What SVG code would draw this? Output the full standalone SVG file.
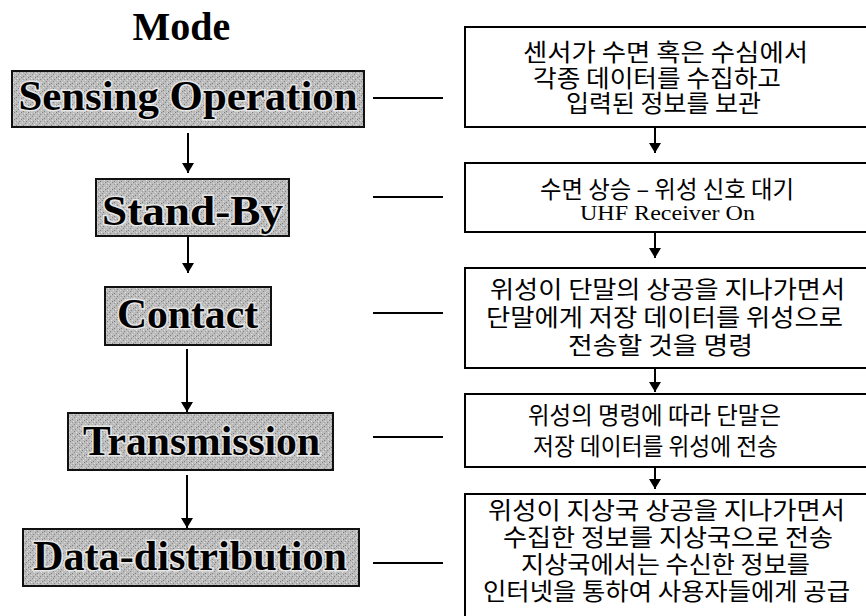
<svg xmlns="http://www.w3.org/2000/svg" width="866" height="616" viewBox="0 0 866 616">
  <defs>
    <!-- stippled grey fill of the mode boxes -->
    <pattern id="stipple" width="7" height="7" patternUnits="userSpaceOnUse">
      <rect width="7" height="7" fill="#bcbcbc"/>
      <rect x="0" y="0" width="1" height="1" fill="#7d7d7d"/>
      <rect x="3" y="1" width="1" height="1" fill="#e2e2e2"/>
      <rect x="5" y="2" width="1" height="1" fill="#858585"/>
      <rect x="1" y="3" width="1" height="1" fill="#dcdcdc"/>
      <rect x="4" y="4" width="1" height="1" fill="#8a8a8a"/>
      <rect x="6" y="5" width="1" height="1" fill="#e0e0e0"/>
      <rect x="2" y="6" width="1" height="1" fill="#808080"/>
      <rect x="2" y="2" width="1" height="1" fill="#a0a0a0"/>
      <rect x="6" y="0" width="1" height="1" fill="#d4d4d4"/>
    </pattern>
    <marker id="head" viewBox="0 0 10 12" refX="10" refY="6" markerWidth="10" markerHeight="12" markerUnits="userSpaceOnUse" orient="auto">
      <path d="M0,0 L10,6 L0,12 Z" fill="#000"/>
    </marker>
  </defs>
  <style>
    .mode { fill: url(#stipple); stroke: #111; stroke-width: 2; }
    .modeText { font-family: "Liberation Serif", "Times New Roman", serif; font-weight: bold; font-size: 42px; fill: #000; stroke: #e6e6e6; stroke-width: 3px; paint-order: stroke; text-anchor: middle; }
    .title { font-family: "Liberation Serif", "Times New Roman", serif; font-weight: bold; font-size: 40px; fill: #000; text-anchor: middle; }
    .desc { fill: #fff; stroke: #000; stroke-width: 2; }
    .ko { font-family: "Noto Sans CJK KR", "Noto Sans", sans-serif; font-size: 24px; fill: #000; text-anchor: middle; }
    .en { font-family: "Liberation Serif", "Times New Roman", serif; font-size: 20px; fill: #000; text-anchor: middle; }
    .link { stroke: #000; stroke-width: 2; fill: none; }
    .flow { stroke: #000; stroke-width: 2; fill: none; marker-end: url(#head); }
  </style>

  <rect width="866" height="616" fill="#fff"/>

  <text class="title" x="181.5" y="40">Mode</text>

  <!-- mode column -->
  <g id="mode-sensing">
    <rect class="mode" x="12" y="71" width="352" height="56"/>
    <text class="modeText" x="188" y="110" textLength="339" lengthAdjust="spacingAndGlyphs">Sensing Operation</text>
  </g>
  <g id="mode-standby">
    <rect class="mode" x="96" y="179" width="193" height="57"/>
    <text class="modeText" x="192.5" y="225" textLength="181" lengthAdjust="spacingAndGlyphs">Stand-By</text>
  </g>
  <g id="mode-contact">
    <rect class="mode" x="105" y="287" width="166" height="58"/>
    <text class="modeText" x="187.5" y="328" textLength="141" lengthAdjust="spacingAndGlyphs">Contact</text>
  </g>
  <g id="mode-transmission">
    <rect class="mode" x="68" y="413" width="265" height="57"/>
    <text class="modeText" x="201.5" y="455" textLength="237" lengthAdjust="spacingAndGlyphs">Transmission</text>
  </g>
  <g id="mode-distribution">
    <rect class="mode" x="23" y="529" width="336" height="57"/>
    <text class="modeText" x="190" y="570" textLength="314" lengthAdjust="spacingAndGlyphs">Data-distribution</text>
  </g>

  <!-- description column -->
  <g id="desc-sensing">
    <rect class="desc" x="465" y="27" width="410" height="100"/>
    <text class="ko" x="665.5" y="61" textLength="285" lengthAdjust="spacingAndGlyphs">센서가 수면 혹은 수심에서</text>
    <text class="ko" x="657" y="87" textLength="248" lengthAdjust="spacingAndGlyphs">각종 데이터를 수집하고</text>
    <text class="ko" x="663.5" y="112" textLength="195" lengthAdjust="spacingAndGlyphs">입력된 정보를 보관</text>
  </g>
  <g id="desc-standby">
    <rect class="desc" x="465" y="163" width="410" height="69"/>
    <text class="ko" x="667" y="198" textLength="254" lengthAdjust="spacingAndGlyphs">수면 상승 – 위성 신호 대기</text>
    <text class="en" x="667.5" y="220" textLength="175" lengthAdjust="spacingAndGlyphs">UHF Receiver On</text>
  </g>
  <g id="desc-contact">
    <rect class="desc" x="465" y="268" width="410" height="100"/>
    <text class="ko" x="667.5" y="298" textLength="355" lengthAdjust="spacingAndGlyphs">위성이 단말의 상공을 지나가면서</text>
    <text class="ko" x="664.5" y="326" textLength="357" lengthAdjust="spacingAndGlyphs">단말에게 저장 데이터를 위성으로</text>
    <text class="ko" x="660.5" y="354" textLength="185" lengthAdjust="spacingAndGlyphs">전송할 것을 명령</text>
  </g>
  <g id="desc-transmission">
    <rect class="desc" x="465" y="394" width="410" height="73"/>
    <text class="ko" x="654.5" y="424" textLength="253" lengthAdjust="spacingAndGlyphs">위성의 명령에 따라 단말은</text>
    <text class="ko" x="655.5" y="455" textLength="245" lengthAdjust="spacingAndGlyphs">저장 데이터를 위성에 전송</text>
  </g>
  <g id="desc-distribution">
    <rect class="desc" x="465" y="494" width="410" height="140"/>
    <text class="ko" x="666.5" y="519" textLength="357" lengthAdjust="spacingAndGlyphs">위성이 지상국 상공을 지나가면서</text>
    <text class="ko" x="668" y="546" textLength="330" lengthAdjust="spacingAndGlyphs">수집한 정보를 지상국으로 전송</text>
    <text class="ko" x="665.5" y="573" textLength="289" lengthAdjust="spacingAndGlyphs">지상국에서는 수신한 정보를</text>
    <text class="ko" x="666.5" y="600" textLength="367" lengthAdjust="spacingAndGlyphs">인터넷을 통하여 사용자들에게 공급</text>
  </g>

  <!-- connectors -->
  <g id="connectors">
    <line class="flow" x1="188" y1="133" x2="188" y2="173"/>
    <line class="flow" x1="188" y1="237" x2="188" y2="273"/>
    <line class="flow" x1="187" y1="349" x2="187" y2="412"/>
    <line class="flow" x1="187" y1="475" x2="187" y2="528"/>

    <line class="link" x1="373" y1="98" x2="443" y2="98"/>
    <line class="link" x1="373" y1="197" x2="443" y2="197"/>
    <line class="link" x1="373" y1="313" x2="443" y2="313"/>
    <line class="link" x1="373" y1="437" x2="443" y2="437"/>
    <line class="link" x1="373" y1="563" x2="443" y2="563"/>

    <line class="flow" x1="655" y1="128" x2="655" y2="153"/>
    <line class="flow" x1="655" y1="233" x2="655" y2="258"/>
    <line class="flow" x1="655" y1="369" x2="655" y2="392"/>
    <line class="flow" x1="655" y1="468" x2="655" y2="489"/>
  </g>
</svg>
